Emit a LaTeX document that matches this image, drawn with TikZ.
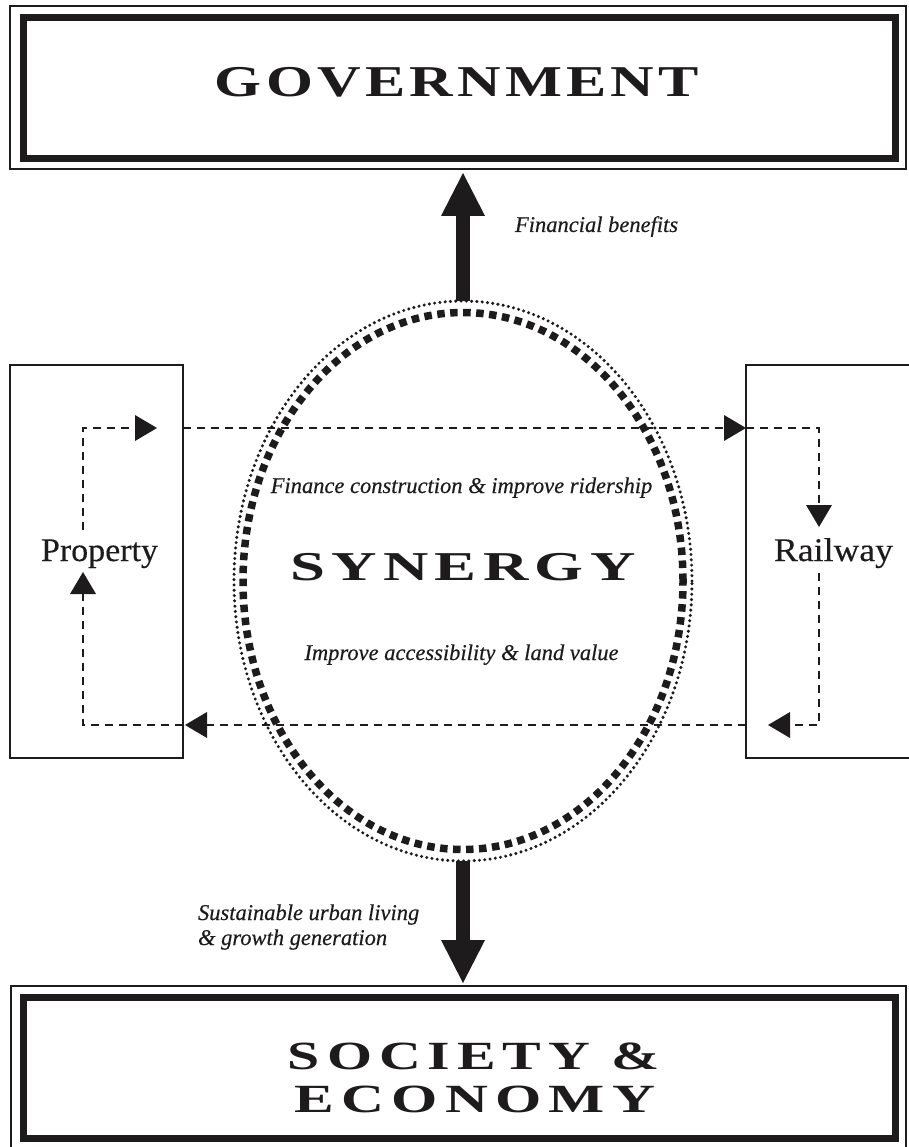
\documentclass[tikz,border=0pt]{standalone}
\usepackage{fontspec}
\setmainfont{Liberation Serif}
\usepackage{graphicx}
\usetikzlibrary{arrows.meta,shapes.geometric}
\definecolor{ink}{RGB}{30,27,28}
\newcommand\fitw[4]{\resizebox{#1}{\height}{\fontsize{#2}{#2}\selectfont\bfseries\addfontfeature{LetterSpace=#3}#4}}
\newcommand\lbl[1]{{\fontsize{22.5}{22.5}\selectfont\itshape\addfontfeature{FakeBold=0.4}#1}}
\newcommand\boxlbl[2]{\resizebox{#1}{\height}{\fontsize{33}{33}\selectfont\addfontfeature{FakeBold=0.3}#2}}
\tikzset{
  thinframe/.style={draw=ink, line width=2pt},
  thickframe/.style={draw=ink, line width=7pt, minimum width=872pt, minimum height=141pt},
  sidebox/.style={draw=ink, line width=2.5pt, minimum height=393pt},
  flow/.style={draw=ink, line width=2pt, dash pattern=on 8pt off 6pt, -{Triangle[length=22pt,width=26pt,line width=0pt]}},
  bigarrow/.style={draw=ink, line width=14pt, -{Triangle[length=43pt,width=44pt,line width=0pt]}},
  dotring/.style={ellipse, draw=ink, line width=3.4pt, dash pattern=on 0pt off 5.3pt, line cap=round},
  squarering/.style={ellipse, draw=ink, line width=7.5pt, dash pattern=on 7.5pt off 5.5pt},
}
\begin{document}
\begin{tikzpicture}[x=1pt,y=-1pt, every node/.style={inner sep=0pt, outer sep=0pt, text=ink}]
\useasboundingbox[fill=white] (0,0) rectangle (908,1147);

% Government
\draw[thinframe] (10,6) rectangle (906,169);
\node[thickframe] (gov) at (459.75,87.75) {};
\node[anchor=base] (govtxt) at (457,97) {\fitw{484pt}{44}{7}{GOVERNMENT}};

% Society & Economy
\draw[thinframe] (11,986) rectangle (906,1165);
\node[thickframe] (soc) at (459.25,1068) {};
\node[anchor=base] (soctxt1) at (474,1069) {\smash{\fitw{372pt}{40}{12}{SOCIETY \&}}};
\node[anchor=base] (soctxt2) at (475,1112) {\fitw{360pt}{40}{12}{ECONOMY}};

% Side boxes
\node[sidebox, minimum width=173pt] (prop) at (96.5,561.5) {};
\node[sidebox, minimum width=190pt] (rail) at (841,561.5) {};
\node[anchor=base] (proptxt) at (99.5,561) {\boxlbl{117pt}{Property}};
\node[anchor=base] (railtxt) at (833.5,561) {\boxlbl{119pt}{Railway}};

% Synergy ellipse
\node[dotring, minimum width=458pt, minimum height=560pt] (ell) at (463,581) {};
\node[squarering, minimum width=440pt, minimum height=537pt] (ellin) at (463,581) {};
\node[anchor=base] (syn) at (463,580) {\fitw{345pt}{41}{10}{SYNERGY}};
\node[anchor=base] (fin) at (461.5,493) {\lbl{Finance construction \& improve ridership}};
\node[anchor=base] (acc) at (461.5,660) {\lbl{Improve accessibility \& land value}};

% Big arrows
\coordinate (govtip) at (463,173);
\coordinate (soctip) at (463,983);
\draw[bigarrow] (ell.north) -- (govtip);
\draw[bigarrow] (ell.south) -- (soctip);
\node[anchor=base west] (finben) at (515,232) {\lbl{Financial benefits}};
\node[anchor=base west] (sus1) at (198,920) {\lbl{Sustainable urban living}};
\node[anchor=base west] (sus2) at (198,945) {\lbl{\& growth generation}};

% Dashed loop
\coordinate (pup) at (83,530);
\coordinate (ptl) at (83,428);
\coordinate (ptip) at (157,428);
\coordinate (rtr) at (819,428);
\coordinate (rdtip) at (819,527);
\coordinate (rdn) at (819,573);
\coordinate (rbr) at (819,725);
\coordinate (rltip) at (768,725);
\coordinate (pbl) at (83,725);
\coordinate (putip) at (83,572);
\coordinate (pltip) at (185,725);

\draw[flow] (pup) -- (ptl) -- (ptip);
\draw[flow] (prop.east |- ptl) -- (rail.west |- ptl);
\draw[flow] (rail.west |- ptl) -- (rtr) -- (rdtip);
\draw[flow] (rdn) -- (rbr) -- (rltip);
\draw[flow] (rail.west |- rbr) -- (pltip);
\draw[flow] (prop.east |- pbl) -- (pbl) -- (putip);
\end{tikzpicture}
\end{document}
